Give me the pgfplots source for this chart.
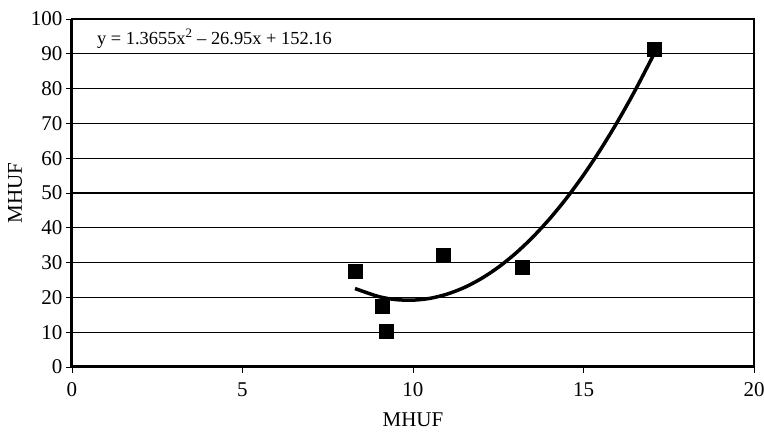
\documentclass[border=0pt]{standalone}
\usepackage{pgfplots}
\pgfplotsset{compat=1.18}
\usepackage{fontspec}
\setmainfont{Liberation Serif}
\begin{document}
\begin{tikzpicture}[x=1pt,y=1pt]
\useasboundingbox (-72,-68) rectangle (692,367);
\begin{axis}[
  at={(0,0)}, anchor=south west,
  scale only axis, width=682pt, height=348pt,
  xmin=0, xmax=20, ymin=0, ymax=100,
  xtick={0,5,10,15,20}, ytick={0,10,...,100},
  xtick pos=bottom, ytick pos=left,
  tick align=outside, major tick length=6pt,
  tick style={black, line width=0.8pt},
  ymajorgrids, grid style={black, line width=1.3pt},
  axis line style={black, line width=1.2pt},
  /pgf/number format/assume math mode=true,
  ticklabel style={font=\fontsize{21}{25}\selectfont},
  xticklabel style={yshift=-6pt},
  label style={font=\fontsize{21}{25}\selectfont},
  xlabel={MHUF}, ylabel={MHUF},
  xlabel style={at={(axis description cs:0.5,-0.1523)}, anchor=center},
  ylabel style={at={(axis description cs:-0.0836,0.5)}, anchor=center},
  clip=false,
]
\addplot[black, line width=3.5pt, no marks, smooth] coordinates {
(8.3,22.54) (9,20.22) (9.5,19.37) (10,19.21) (10.5,19.73) (11,20.94)
(11.5,22.82) (12,25.39) (12.5,28.64) (13,32.58) (13.5,37.20) (14,42.50)
(14.5,48.48) (15,55.15) (15.5,62.50) (16,70.53) (16.5,79.24) (17,88.64) (17.1,90.60)
};
\addplot[only marks, mark=square*, mark size=7pt, black] coordinates {
(8.3,27.5) (9.1,17.6) (9.2,10.4) (10.9,32.1) (13.2,28.6) (17.07,91.4)
};
\node[anchor=west, inner sep=0pt, font=\fontsize{18.4}{21}\selectfont] at (axis cs:0.73,94.3) {y = 1.3655x$^{\mathrm{2}}$ -- 26.95x + 152.16};
\draw[black, line width=3pt] (rel axis cs:0,1) -- (rel axis cs:0,0) -- (rel axis cs:1,0);
\end{axis}
\end{tikzpicture}
\end{document}
